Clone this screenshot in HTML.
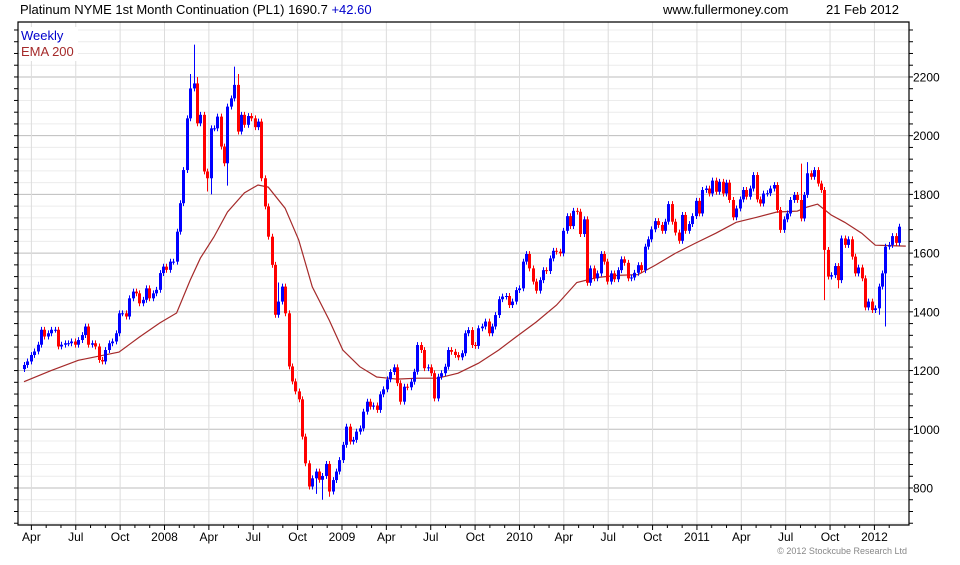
<!DOCTYPE html>
<html><head><meta charset="utf-8">
<style>
html,body{margin:0;padding:0;background:#fff;}
body{width:960px;height:560px;overflow:hidden;font-family:"Liberation Sans",sans-serif;}
svg text{font-family:"Liberation Sans",sans-serif;}
</style></head>
<body>
<svg id="chart" width="960" height="560" viewBox="0 0 960 560" xmlns="http://www.w3.org/2000/svg">
  <rect x="0" y="0" width="960" height="560" fill="#fff"/>
  <g id="grid"></g>
  <g id="ema"></g>
  <g id="candles"></g>
  <g id="axes"></g>
  <text x="20" y="14" font-size="13" fill="#000">Platinum NYME 1st Month Continuation (PL1) 1690.7 <tspan fill="#0000cc">+42.60</tspan></text>
  <text x="663" y="14" font-size="13" fill="#000">www.fullermoney.com</text>
  <text x="826" y="14" font-size="13" fill="#000">21 Feb 2012</text>
  <rect x="20" y="27" width="58" height="34" fill="#fff"/>
  <text x="21" y="40" font-size="13" fill="#0000cc">Weekly</text>
  <text x="21" y="56" font-size="13" fill="#a52a2a">EMA 200</text>
  <text x="907" y="554" font-size="9" fill="#888" text-anchor="end">© 2012 Stockcube Research Ltd</text>
</svg>
<script>
const closes = [
1219,1231,1253,1265,1288,1339,1316,1327,1339,1339,1282,1288,1293,1293,1299,1288,1304,1321,1350,1288,1293,1282,1236,1231,1270,1293,1299,1327,1395,1395,1384,1446,1469,1463,1429,1441,1480,1446,1463,1475,1532,1554,1543,1571,1571,1673,1770,1883,2059,2161,2178,2042,2071,1878,1855,2025,2025,2065,1963,1906,2099,2127,2173,2014,2071,2037,2067,2059,2029,2048,1855,1759,1656,1560,1390,1435,1486,1395,1214,1163,1129,1102,
975,884,805,833,856,828,841,882,788,827,856,895,947,1009,958,964,992,1003,1060,1094,1077,1081,1066,1119,1136,1170,1195,1211,1157,1094,1145,1143,1162,1196,1287,1270,1208,1211,1191,1105,1179,1191,1213,1270,1264,1253,1245,1259,1327,1338,1287,1284,1344,1350,1367,1327,1350,1389,1443,1452,1454,1423,1435,1474,1480,1571,1597,1548,1503,1472,1508,
1542,1539,1582,1608,1605,1599,1676,1726,1692,1744,1741,1665,1715,1499,1548,1514,1531,1597,1571,1503,1531,1511,1542,1579,1567,1514,1517,1533,1559,1542,1622,1647,1681,1709,1696,1676,1707,1767,1707,1670,1642,1730,1676,1699,1726,1778,1735,1815,1820,1803,1847,1809,1843,1803,1840,1781,1722,1752,1783,1815,
1792,1820,1866,1783,1769,1803,1804,1820,1832,1747,1679,1715,1735,1781,1798,1781,1718,1798,1872,1860,1883,1837,1815,1611,1520,1525,1556,1508,1650,1628,1647,1588,1531,1551,1514,1415,1435,1406,1412,1486,1531,1622,1628,1658,1635,1690
];
const firstOpen = 1205;
const wickHighWeeks = [49, 50, 51, 62, 63, 75, 229, 231];
const wickHighValues = [2210, 2310, 2200, 2235, 2210, 1500, 1905, 1910];
const wickLowWeeks = [54, 55, 60, 86, 88, 90, 236, 240, 252, 254];
const wickLowValues = [1810, 1800, 1830, 780, 760, 770, 1440, 1480, 1390, 1350];
const emaWeeks = [0,8,16,22,28,34,40,45,49,52,56,60,65,69,72,77,81,85,90,94,99,104,110,116,122,128,134,140,145,151,157,163,169,175,181,186,192,198,204,210,216,222,228,231,234,238,242,247,251,260];
const emaValues = [1162,1200,1235,1249,1263,1314,1362,1396,1508,1583,1655,1740,1805,1832,1825,1753,1645,1485,1372,1270,1213,1178,1171,1174,1174,1191,1225,1270,1314,1365,1423,1500,1517,1524,1527,1558,1599,1634,1668,1705,1722,1740,1743,1757,1767,1730,1705,1668,1627,1624];
const yTickValues = [800,1000,1200,1400,1600,1800,2000,2200];
const xTickLabels = ["Apr","Jul","Oct","2008","Apr","Jul","Oct","2009","Apr","Jul","Oct","2010","Apr","Jul","Oct","2011","Apr","Jul","Oct","2012"];
const xTickMonths = [3,6,9,12,15,18,21,24,27,30,33,36,39,42,45,48,51,54,57,60];

const NS = "http://www.w3.org/2000/svg";
const L = 18, R = 909, T = 22, B = 525;
function yScale(v){ return 488 - (v - 800) * 0.2936; }
function xWeek(i){ return 24 + i * (875 / (closes.length - 1)); }
function xMonth(m){ return 164.5 + (m - 12) * 14.79; }
function mk(tag, attrs, parent){ const e = document.createElementNS(NS, tag); for (const k in attrs) e.setAttribute(k, attrs[k]); parent.appendChild(e); return e; }

const grid = document.getElementById('grid');
for (let v = 680; v <= 2360; v += 40) {
  const major = (v % 200 === 0);
  const ln = mk('line', {x1:L, x2:R, y1:yScale(v), y2:yScale(v), stroke: major ? '#bdbdbd' : '#ececec', 'stroke-width':1}, grid);
  
  
}
xTickMonths.forEach(function(m){
  const ln = mk('line', {x1:xMonth(m), x2:xMonth(m), y1:T, y2:B, stroke:'#dcdcdc', 'stroke-width':1}, grid);
  
  
});

const ema = document.getElementById('ema');
const pts = emaWeeks.map(function(w, k){ return xWeek(w).toFixed(1) + ',' + yScale(emaValues[k]).toFixed(1); }).join(' ');
const emaLine = mk('polyline', {points:pts, fill:'none', stroke:'#a52a2a', 'stroke-width':1.2}, ema);



const cg = document.getElementById('candles');
for (let i = 0; i < closes.length; i++) {
  const o = i === 0 ? firstOpen : closes[i-1];
  const c = closes[i];
  let hi = Math.max(o, c) + 10, lo = Math.min(o, c) - 10;
  const hk = wickHighWeeks.indexOf(i); if (hk >= 0) hi = wickHighValues[hk];
  const lk = wickLowWeeks.indexOf(i); if (lk >= 0) lo = wickLowValues[lk];
  const col = c >= o ? '#0000ff' : '#ff0000';
  const x = Math.round(xWeek(i));
  const w = mk('line', {x1:x+0.5, x2:x+0.5, y1:yScale(hi), y2:yScale(lo), stroke:col, 'stroke-width':1}, cg);
  
  
  const top = yScale(Math.max(o, c)), bot = yScale(Math.min(o, c));
  const b = mk('rect', {x:x-1, y:top, width:3, height:Math.max(1, bot-top), fill:col}, cg);
  
  
}

const ax = document.getElementById('axes');
const frame = mk('path', {d:'M'+L+' '+T+' H'+R+' V'+B+' H'+L+' Z', fill:'none', stroke:'#000', 'stroke-width':1.2}, ax);


for (let v = 680; v <= 2360; v += 40) {
  const y = yScale(v);
  mk('line', {x1:L-4, x2:L, y1:y, y2:y, stroke:'#000'}, ax);
  mk('line', {x1:R, x2:R+4, y1:y, y2:y, stroke:'#000'}, ax);
}
yTickValues.forEach(function(v){
  const t = mk('text', {x:913, y:yScale(v)+4.5, 'font-size':12, fill:'#000'}, ax);
  t.textContent = v;
  
  
});
for (let m = 3; m <= 61; m++) {
  const x = xMonth(m);
  const major = xTickMonths.indexOf(m) >= 0;
  mk('line', {x1:x, x2:x, y1:B, y2:B + (major ? 5 : 3), stroke:'#000'}, ax);
}
xTickLabels.forEach(function(lab, k){
  const t = mk('text', {x:xMonth(xTickMonths[k]), y:541, 'font-size':12, fill:'#000', 'text-anchor':'middle'}, ax);
  t.textContent = lab;
  
  
});
</script>
</body></html>
